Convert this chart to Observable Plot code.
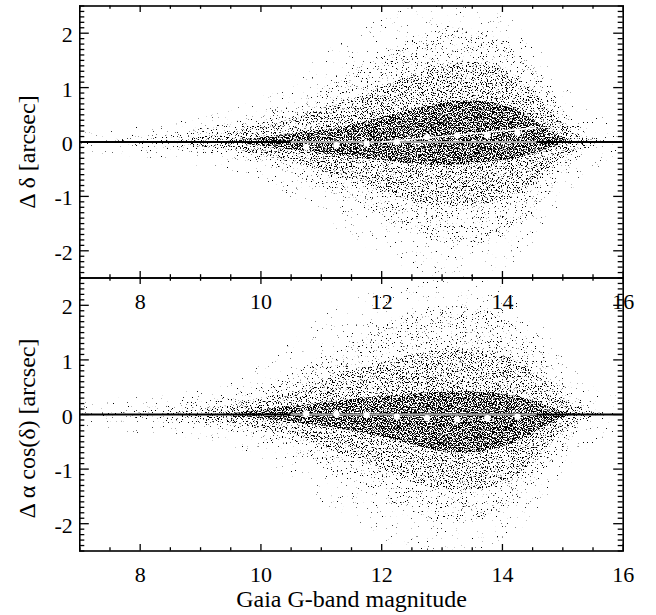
<!DOCTYPE html>
<html><head><meta charset="utf-8">
<script src="https://cdn.jsdelivr.net/npm/d3@7"></script>
<script src="https://cdn.jsdelivr.net/npm/@observablehq/plot@0.6"></script>
<style>
body{margin:0;background:#fff;}
#wrap{position:relative;width:656px;height:615px;}
#wrap svg{position:absolute;left:0;top:0;font-family:"Liberation Serif","Times New Roman",serif;}
</style></head><body><div id="wrap"></div>
<script>
// Gaia G magnitude grid where the point-cloud envelope was read
const mags = [7,7.5,8,8.5,9,9.5,10,10.5,11,11.5,12,12.5,13,13.5,14,14.5,15,15.5,16];

// Top panel: Δδ envelopes (lower/upper) per density level
const decSparseLo = [-0.2,-0.25,-0.3,-0.35,-0.45,-0.55,-0.7,-1.0,-1.4,-1.8,-2.1,-2.4,-2.5,-2.5,-2.4,-2.0,-1.0,-0.5,-0.3];
const decSparseHi = [0.2,0.25,0.3,0.35,0.45,0.6,0.8,1.1,1.6,2.0,2.3,2.5,2.5,2.5,2.4,2.0,1.0,0.5,0.3];
const decLightLo  = [0,0,-0.1,-0.15,-0.2,-0.3,-0.4,-0.6,-0.85,-1.1,-1.4,-1.7,-1.9,-1.9,-1.8,-1.4,-0.6,0,0];
const decLightHi  = [0,0,0.1,0.15,0.25,0.35,0.5,0.7,0.95,1.3,1.6,1.9,2.1,2.1,1.9,1.5,0.6,0,0];
const decMedLo    = [0,0,0,0,-0.1,-0.15,-0.25,-0.35,-0.55,-0.7,-0.9,-1.1,-1.2,-1.2,-1.1,-0.85,-0.25,0,0];
const decMedHi    = [0,0,0,0,0.1,0.15,0.3,0.4,0.6,0.8,1.0,1.25,1.4,1.5,1.4,1.0,0.25,0,0];
const decDenseLo  = [0,0,0,0,0,0,-0.08,-0.15,-0.2,-0.28,-0.35,-0.4,-0.45,-0.4,-0.35,-0.25,0,0,0];
const decDenseHi  = [0,0,0,0,0,0,0.08,0.15,0.2,0.3,0.45,0.6,0.72,0.78,0.7,0.45,0,0,0];

// Bottom panel: Δα cos(δ) envelopes
const raSparseLo = [-0.2,-0.3,-0.35,-0.4,-0.45,-0.55,-0.8,-1.2,-1.6,-2.0,-2.3,-2.5,-2.5,-2.5,-2.4,-2.0,-1.0,-0.5,-0.3];
const raSparseHi = [0.2,0.3,0.3,0.35,0.45,0.6,0.9,1.3,1.8,2.1,2.3,2.5,2.5,2.5,2.4,2.0,1.0,0.5,0.3];
const raLightLo  = [0,0,-0.1,-0.15,-0.2,-0.3,-0.45,-0.7,-0.95,-1.2,-1.5,-1.8,-2.0,-2.0,-1.8,-1.4,-0.6,0,0];
const raLightHi  = [0,0,0.1,0.15,0.25,0.35,0.5,0.75,1.0,1.3,1.6,1.9,2.0,2.0,1.8,1.4,0.6,0,0];
const raMedLo    = [0,0,0,0,-0.1,-0.15,-0.25,-0.35,-0.6,-0.8,-1.0,-1.25,-1.4,-1.4,-1.3,-0.95,-0.25,0,0];
const raMedHi    = [0,0,0,0,0.1,0.15,0.3,0.4,0.6,0.8,0.95,1.1,1.2,1.2,1.1,0.85,0.25,0,0];
const raDenseLo  = [0,0,0,0,0,0,-0.08,-0.15,-0.2,-0.3,-0.4,-0.55,-0.7,-0.72,-0.62,-0.38,0,0,0];
const raDenseHi  = [0,0,0,0,0,0,0.08,0.15,0.2,0.28,0.32,0.38,0.42,0.42,0.38,0.28,0,0,0];

// binned means (white dots)
const binMags = [10.75,11.25,11.75,12.25,12.75,13.25,13.75,14.25];
const decMeans = [-0.09,-0.06,-0.03,0.0,0.09,0.12,0.12,0.17];
const raMeans  = [0.02,0.01,-0.01,-0.04,-0.07,-0.09,-0.07,-0.04];

// linear trend (white line) in top panel
const decFitMags = [12.0,14.55];
const decFitVals = [0.0,0.26];
// grey segment over zero line
const greyMags = [10.5,14.55];

const xDomain = [7,16];
const yDomain = [-2.5,2.5];
const xMajor = [8,10,12,14,16];
const yMajor = [-2,-1,0,1,2];
const xMinor = d3.range(7,16.001,0.5).filter(v => !xMajor.includes(v));
const yMinor = d3.range(-25,26).map(v => v/10).filter(v => !Number.isInteger(v));

const W = 656, H = 615, ML = 79.3, MR = 33.3;
const FONT = "'Liberation Serif', 'Times New Roman', serif";
const thresholds = [0.73, 0.655, 0.575, 0.46];

function panel(cfg) {
  const {id, top, bottom, lev, means, ytitle, titleDy, fit, xlabel} = cfg;
  const rows = mags.map((m,i) => ({m,
    sLo: lev[0][i], sHi: lev[1][i], lLo: lev[2][i], lHi: lev[3][i],
    mLo: lev[4][i], mHi: lev[5][i], dLo: lev[6][i], dHi: lev[7][i]}));
  const plotH = H - top - bottom;
  const yPx = (yDomain[1]-yDomain[0]) / plotH;
  const xPx = (xDomain[1]-xDomain[0]) / (W - ML - MR);
  const bins = binMags.map((m,i) => ({m, v: means[i]}));
  const marks = [
    Plot.areaY(rows, {x: "m", y1: "sLo", y2: "sHi", fill: "black", curve: "basis"}),
    Plot.areaY(rows, {x: "m", y1: "lLo", y2: "lHi", fill: "black", curve: "basis"}),
    Plot.areaY(rows, {x: "m", y1: "mLo", y2: "mHi", fill: "black", curve: "basis"}),
    Plot.areaY(rows, {x: "m", y1: "dLo", y2: "dHi", fill: "black", curve: "basis"}),
    Plot.ruleY([0], {stroke: "black", strokeWidth: 1.8}),
    Plot.line(greyMags.map(m => ({m, v: 0})), {x: "m", y: "v", stroke: "#a8a8a8", strokeWidth: 1.8}),
  ];
  if (fit) marks.push(Plot.line(fit, {x: "m", y: "v", stroke: "white", strokeWidth: 1.6}));
  marks.push(
    Plot.dot(bins, {x: "m", y: "v", r: 3.2, fill: "white", stroke: null}),
    // ticks x (bottom & top, inward)
    Plot.ruleX(xMajor, {x: d => d, y1: yDomain[0], y2: yDomain[0] + 6.5*yPx, stroke: "black", strokeWidth: 1.3}),
    Plot.ruleX(xMinor, {x: d => d, y1: yDomain[0], y2: yDomain[0] + 3.3*yPx, stroke: "black", strokeWidth: 1.3}),
    Plot.ruleX(xMajor, {x: d => d, y1: yDomain[1], y2: yDomain[1] - 6.5*yPx, stroke: "black", strokeWidth: 1.3}),
    Plot.ruleX(xMinor, {x: d => d, y1: yDomain[1], y2: yDomain[1] - 3.3*yPx, stroke: "black", strokeWidth: 1.3}),
    // ticks y (left & right, inward)
    Plot.ruleY(yMajor, {y: d => d, x1: xDomain[0], x2: xDomain[0] + 9.5*xPx, stroke: "black", strokeWidth: 1.3}),
    Plot.ruleY(yMinor, {y: d => d, x1: xDomain[0], x2: xDomain[0] + 5*xPx, stroke: "black", strokeWidth: 1.3}),
    Plot.ruleY(yMajor, {y: d => d, x1: xDomain[1], x2: xDomain[1] - 9.5*xPx, stroke: "black", strokeWidth: 1.3}),
    Plot.ruleY(yMinor, {y: d => d, x1: xDomain[1], x2: xDomain[1] - 5*xPx, stroke: "black", strokeWidth: 1.3}),
    Plot.frame({stroke: "black", strokeWidth: 1.6}),
    Plot.text(xMajor, {x: d => d, y: () => yDomain[0], dy: 24, text: d => String(d), fontSize: 22, fill: "black", fontFamily: FONT, lineAnchor: "middle"}),
    Plot.text(yMajor, {x: () => xDomain[0], y: d => d, dx: -7, dy: 2, textAnchor: "end", lineAnchor: "middle", text: d => String(d), fontSize: 22, fill: "black", fontFamily: FONT}),
    Plot.text([ytitle], {frameAnchor: "left", textAnchor: "middle", lineAnchor: "middle", rotate: -90, dx: -52, dy: titleDy, text: d => d, fontSize: 24, fill: "black", fontFamily: FONT})
  );
  if (xlabel) marks.push(Plot.text([xlabel], {frameAnchor: "bottom", textAnchor: "middle", lineAnchor: "middle", dy: 48, text: d => d, fontSize: 24, fill: "black", fontFamily: FONT}));
  const svg = Plot.plot({
    width: W, height: H, marginLeft: ML, marginRight: MR, marginTop: top, marginBottom: bottom,
    x: {domain: xDomain, axis: null}, y: {domain: yDomain, axis: null},
    style: {background: "transparent", overflow: "visible", fontFamily: FONT},
    marks
  });
  svg.style.fontFamily = FONT;
  // stipple texture (style only): thresholded noise masks the density bands
  const ns = "http://www.w3.org/2000/svg";
  const tmp = document.createElementNS(ns, "svg");
  tmp.innerHTML = "<defs>" + thresholds.map((t,k) => `
    <filter id="${id}st${k}" filterUnits="userSpaceOnUse" x="0" y="0" width="${W}" height="${H}" color-interpolation-filters="sRGB">
      <feTurbulence type="fractalNoise" baseFrequency="0.8" numOctaves="2" seed="7" result="n"/>
      <feColorMatrix in="n" type="matrix" values="0 0 0 0 0  0 0 0 0 0  0 0 0 0 0  1 0 0 0 0" result="a"/>
      <feComponentTransfer in="a" result="m"><feFuncA type="linear" slope="14" intercept="${-14*t}"/></feComponentTransfer>
      <feComposite in="SourceGraphic" in2="m" operator="in"/>
    </filter>`).join("") + "</defs>";
  svg.insertBefore(tmp.firstElementChild, svg.firstChild);
  const areas = svg.querySelectorAll('g[aria-label="area"]');
  areas.forEach((g,k) => g.setAttribute("filter", `url(#${id}st${k})`));
  return svg;
}

const wrap = document.getElementById("wrap");
wrap.appendChild(panel({
  id: "top", top: 5.5, bottom: H - 277.5,
  lev: [decSparseLo, decSparseHi, decLightLo, decLightHi, decMedLo, decMedHi, decDenseLo, decDenseHi],
  means: decMeans, ytitle: "Δ δ [arcsec]", titleDy: 10,
  fit: decFitMags.map((m,i) => ({m, v: decFitVals[i]}))
}));
wrap.appendChild(panel({
  id: "bot", top: 277.5, bottom: H - 550.5,
  lev: [raSparseLo, raSparseHi, raLightLo, raLightHi, raMedLo, raMedHi, raDenseLo, raDenseHi],
  means: raMeans, ytitle: "Δ α cos(δ) [arcsec]", titleDy: 14,
  xlabel: "Gaia G-band magnitude"
}));
</script></body></html>
